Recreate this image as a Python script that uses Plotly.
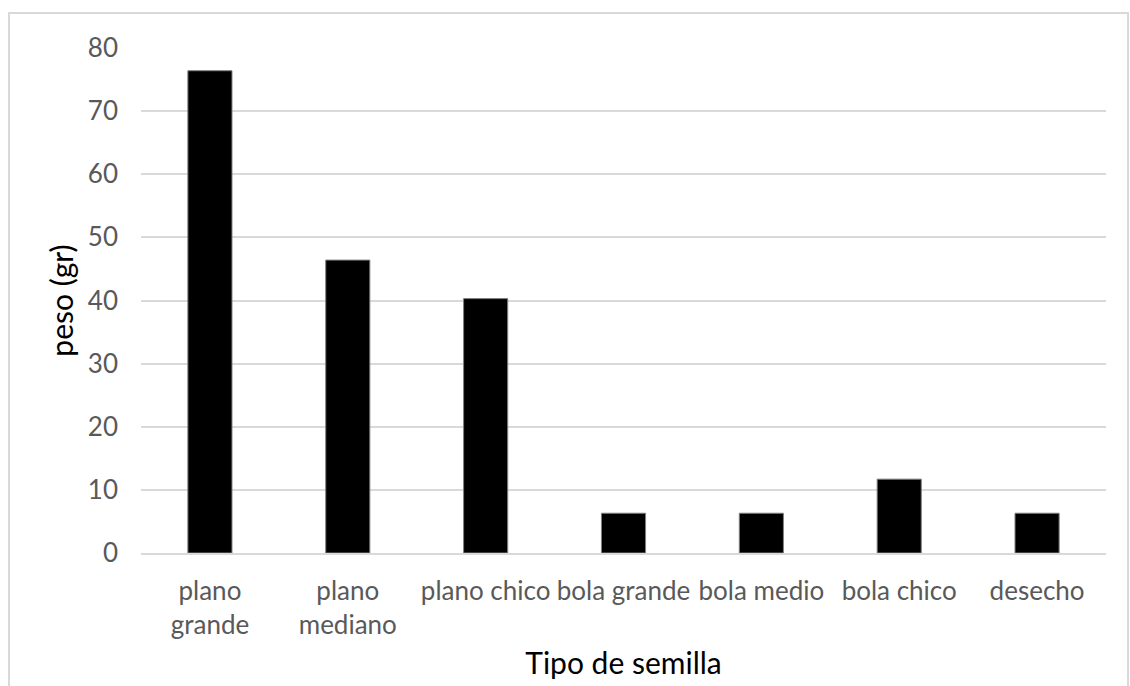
import plotly.graph_objects as go

categories = ["plano<br>grande", "plano<br>mediano", "plano chico", "bola grande",
              "bola medio", "bola chico", "desecho"]
peso = [76.4, 46.4, 40.3, 6.3, 6.3, 11.7, 6.3]
y_ticks = [0, 10, 20, 30, 40, 50, 60, 70, 80]

FONT = "Lato, 'Open Sans', sans-serif"
L, R, T, B = 141, 24, 48, 133
W, H = 1130, 686
pw, ph = W - L - R, H - T - B

fig = go.Figure(go.Bar(
    x=categories, y=peso,
    marker=dict(color="#000000", line=dict(color="#7f7f7f", width=1)),
    width=0.32,
))

fig.update_layout(
    width=W, height=H,
    margin=dict(l=L, r=R, t=T, b=B),
    paper_bgcolor="white", plot_bgcolor="white",
    showlegend=False,
    font=dict(family=FONT, color="#595959", size=26),
    xaxis=dict(
        title=dict(text="Tipo de semilla", font=dict(size=30, color="#000000"), standoff=14),
        showgrid=False, showline=True, linecolor="#d9d9d9", linewidth=2,
        ticks="", tickfont=dict(size=26, color="#595959"),
        ticklabelstandoff=14,
    ),
    yaxis=dict(
        title=dict(text="peso (gr)", font=dict(size=30, color="#000000"), standoff=5),
        range=[0, 80], tickvals=y_ticks, showgrid=True, gridcolor="#d9d9d9", gridwidth=2,
        zeroline=False, showline=False, ticks="",
        tickfont=dict(size=26, color="#595959"), ticklabelstandoff=22,
    ),
    shapes=[dict(
        type="rect", xref="paper", yref="paper",
        x0=(9 - L) / pw, x1=(1128 - L) / pw,
        y0=(H - 700 - B) / ph, y1=(H - 13 - B) / ph,
        line=dict(color="#d9d9d9", width=2), fillcolor="rgba(0,0,0,0)", layer="below",
    )],
)

fig.write_html("out.html")
